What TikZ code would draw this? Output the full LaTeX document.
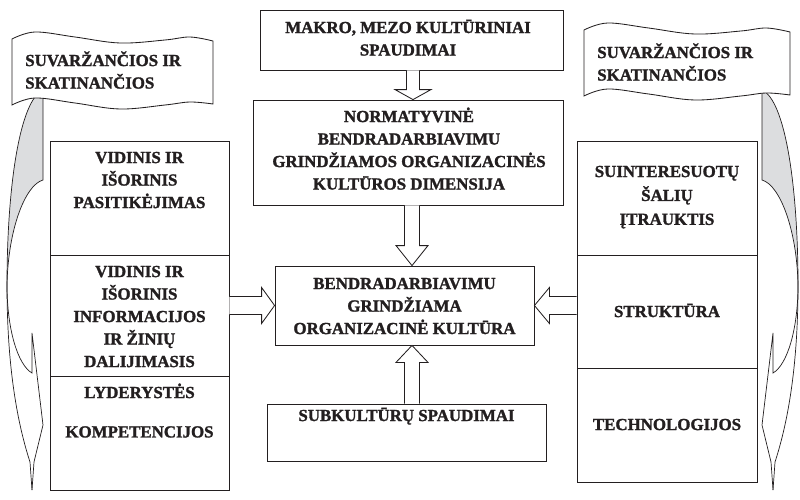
\documentclass[tikz,border=0pt]{standalone}
\usepackage{fontspec}
\setmainfont{Liberation Serif}[BoldFont={Liberation Serif Bold}, BoldFeatures={FakeBold=1.5}]
\usetikzlibrary{calc}
\definecolor{ink}{RGB}{35,31,32}
\definecolor{bandgrey}{RGB}{220,221,223}

% curved band with its arrow head, drawn for the left side
\newcommand\curvedband{%
  \fill[bandgrey] (43,90) -- (43,180) .. controls (25,185) and (8,230) .. (7,285)
     .. controls (7,185) and (20,100) .. (43,90) -- cycle;
  \draw[bandline] (43,90) .. controls (20,100) and (7,185) .. (7,285)
     .. controls (7,370) and (18,425) .. (30,462) -- (32,490);
  \draw[bandline] (43,90) -- (43,180) .. controls (25,185) and (8,230) .. (7,285)
     .. controls (7,330) and (18,365) .. (32,373) -- (32,333) -- (43,425)
     -- (34,462) -- (32,490);
}

\begin{document}
\begin{tikzpicture}[x=0.025cm, y=-0.025cm,
  box/.style 2 args={draw=ink, line width=0.6pt, fill=white, inner sep=0pt,
    minimum width=#1*0.025cm, minimum height=#2*0.025cm},
  lbl/.style={text=ink, inner sep=0pt, align=center, anchor=north,
    font=\fontsize{12}{16}\selectfont\bfseries},
  flaglbl/.style={lbl, align=left, anchor=north west},
  blockarrow/.style={draw=ink, line width=0.6pt, fill=white, line join=miter},
  bandline/.style={draw=ink, line width=0.5pt, line join=miter},
  banner/.pic={
    \draw[ink, line width=0.6pt, fill=white]
      plot[smooth, tension=0.6] coordinates {(0,0) (23,-7) (63,-2) (108,4) (153,1) (178,-2) (201,2)}
      -- plot[smooth, tension=0.6] coordinates {(201,65) (178,63) (153,66) (108,70) (63,64) (23,59) (0,66)}
      -- cycle;
  },
]
\useasboundingbox (0,0) rectangle (800,499);

% curved bands on both sides
\curvedband
\begin{scope}[xshift=805*0.025cm, xscale=-1]
  \curvedband
\end{scope}

% banners
\pic (flagL) at (12,39) {banner};
\pic[xscale=1.025] (flagR) at (584,30) {banner};
\node[flaglbl] (tflagL) at (25,50) {\strut SUVARŽANČIOS IR\\SKATINANČIOS};
\node[flaglbl] (tflagR) at (597,42) {\strut SUVARŽANČIOS IR\\SKATINANČIOS};

% central column
\node[box={303}{60}]  (makro) at (411.5,40) {};
\node[box={310}{105}] (norm)  at (408,152.5) {};
\node[box={259}{79}]  (cen)   at (404.5,305.5) {};
\node[box={279}{57}]  (subk)  at (406.5,432.5) {};

\node[lbl] (tmakro) at (408,17) {\strut MAKRO, MEZO KULTŪRINIAI\\SPAUDIMAI};
\node[lbl] (tnorm)  at (409,106) {\strut NORMATYVINĖ\\BENDRADARBIAVIMU\\GRINDŽIAMOS ORGANIZACINĖS\\KULTŪROS DIMENSIJA};
\node[lbl] (tcen)   at (404.5,273) {\strut BENDRADARBIAVIMU\\GRINDŽIAMA\\ORGANIZACINĖ KULTŪRA};
\node[lbl] (tsubk)  at (406.5,405) {\strut SUBKULTŪRŲ SPAUDIMAI};

% left column
\node[box={179}{114}] (L1) at (139.5,198) {};
\node[box={179}{121}] (L2) at (139.5,315.5) {};
\node[box={179}{114}] (L3) at (139.5,433) {};
\node[lbl] (tL1) at (139.5,147) {\strut VIDINIS IR\\IŠORINIS\\PASITIKĖJIMAS};
\node[lbl] (tL2) at (139.5,261) {\strut VIDINIS IR\\IŠORINIS\\INFORMACIJOS\\IR ŽINIŲ\\DALIJIMASIS};
\node[lbl] (tL3) at (139.5,382) {\strut LYDERYSTĖS\\[12pt]KOMPETENCIJOS};

% right column
\node[box={180}{114}] (R1) at (667,198) {};
\node[box={180}{113}] (R2) at (667,311.5) {};
\node[box={180}{114}] (R3) at (667,425) {};
\node[lbl] (tR1) at (667,161) {\strut SUINTERESUOTŲ\\[1pt]ŠALIŲ\\[1pt]ĮTRAUKTIS};
\node[lbl] (tR2) at (667,301) {\strut STRUKTŪRA};
\node[lbl] (tR3) at (667,414) {\strut TECHNOLOGIJOS};

% block arrows
\coordinate (ax) at (413,0);
\draw[blockarrow] ($(ax |- makro.south)+(-6.5,0)$) -- ($(ax |- norm.north)+(-6.5,-10)$)
  -- ($(ax |- norm.north)+(-18,-10)$) -- (ax |- norm.north) -- ($(ax |- norm.north)+(18,-10)$)
  -- ($(ax |- norm.north)+(6.5,-10)$) -- ($(ax |- makro.south)+(6.5,0)$);
\coordinate (bx) at (412,0);
\draw[blockarrow] ($(bx |- norm.south)+(-7.5,0)$) -- ($(bx |- cen.north)+(-7.5,-20)$)
  -- ($(bx |- cen.north)+(-16,-20)$) -- (bx |- cen.north) -- ($(bx |- cen.north)+(16,-20)$)
  -- ($(bx |- cen.north)+(7.5,-20)$) -- ($(bx |- norm.south)+(7.5,0)$);
\draw[blockarrow] ($(bx |- subk.north)+(-7.5,0)$) -- ($(bx |- cen.south)+(-7.5,17)$)
  -- ($(bx |- cen.south)+(-16,17)$) -- (bx |- cen.south) -- ($(bx |- cen.south)+(16,17)$)
  -- ($(bx |- cen.south)+(7.5,17)$) -- ($(bx |- subk.north)+(7.5,0)$);
\draw[blockarrow] ($(L2.east |- cen.west)+(0,-9)$) -- ($(cen.west)+(-13,-9)$)
  -- ($(cen.west)+(-13,-18)$) -- (cen.west) -- ($(cen.west)+(-13,18)$)
  -- ($(cen.west)+(-13,9)$) -- ($(L2.east |- cen.west)+(0,9)$);
\draw[blockarrow] ($(R2.west |- cen.east)+(0,-9)$) -- ($(cen.east)+(15,-9)$)
  -- ($(cen.east)+(15,-18)$) -- (cen.east) -- ($(cen.east)+(15,18)$)
  -- ($(cen.east)+(15,9)$) -- ($(R2.west |- cen.east)+(0,9)$);
\end{tikzpicture}
\end{document}
